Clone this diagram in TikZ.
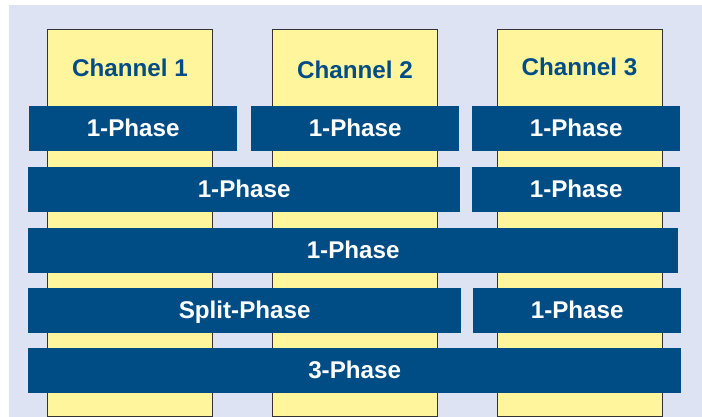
\documentclass[tikz,border=0pt]{standalone}
\usepackage{fontspec}
\setmainfont{Liberation Sans}
\definecolor{bgblue}{HTML}{DEE3F3}
\definecolor{colyellow}{HTML}{FFF59C}
\definecolor{darkblue}{HTML}{004C85}
\tikzset{
  colbox/.style={draw=black!80, line width=0.8pt, fill=colyellow},
  chlabel/.style={text=darkblue, font=\fontsize{24.2}{26}\selectfont\bfseries, inner sep=0pt, text height=17pt, text depth=0pt},
  bar/.style={fill=darkblue, draw=none, text=white, font=\fontsize{24.2}{26}\selectfont\bfseries, inner sep=0pt, text height=15pt, text depth=0pt, anchor=north west, minimum height=45pt},
}
\begin{document}
\begin{tikzpicture}[x=1pt,y=-1pt]
\useasboundingbox (0,0) rectangle (702,417);
\fill[bgblue] (9,5) rectangle (702,417);
% channel columns
\draw[colbox] (47.5,29) rectangle (212.5,416);
\draw[colbox] (272.5,29) rectangle (437.5,416);
\draw[colbox] (497,29) rectangle (662,416);
\node[chlabel] (ch1) at (130,68) {Channel 1};
\node[chlabel] (ch2) at (355,70) {Channel 2};
\node[chlabel] (ch3) at (579.5,67) {Channel 3};
% row 1
\node[bar, minimum width=208pt] (r1a) at (29,106) {1-Phase};
\node[bar, minimum width=208pt] (r1b) at (251,106) {1-Phase};
\node[bar, minimum width=208pt] (r1c) at (472,106) {1-Phase};
% row 2
\node[bar, minimum width=432pt] (r2a) at (28,167) {1-Phase};
\node[bar, minimum width=208pt] (r2b) at (472,167) {1-Phase};
% row 3
\node[bar, minimum width=650pt] (r3) at (28,228) {1-Phase};
% row 4
\node[bar, minimum width=433pt] (r4a) at (28,288) {Split-Phase};
\node[bar, minimum width=208pt] (r4b) at (473,288) {1-Phase};
% row 5
\node[bar, minimum width=653pt] (r5) at (28,348) {3-Phase};
\end{tikzpicture}
\end{document}
